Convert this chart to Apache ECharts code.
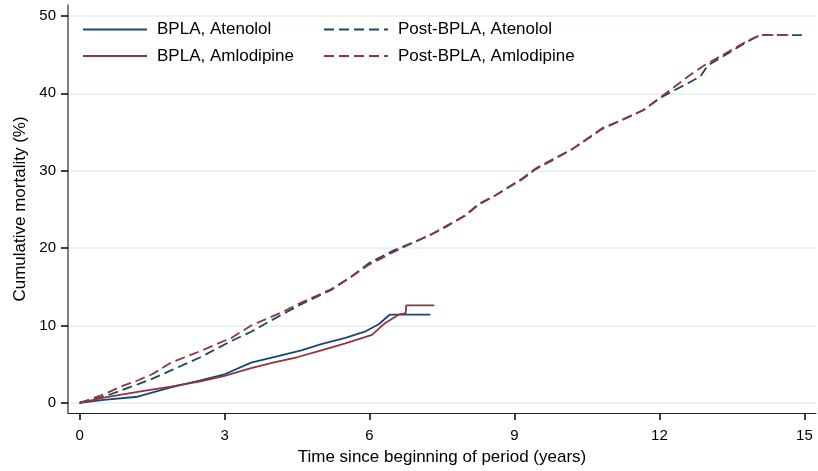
<!DOCTYPE html>
<html>
<head>
<meta charset="utf-8">
<script src="https://cdn.jsdelivr.net/npm/echarts@6/dist/echarts.min.js"></script>
<style>
  html, body { margin: 0; padding: 0; background: #fff; }
  #chart { width: 818px; height: 471px; }
</style>
</head>
<body>
<div id="chart"></div>
<script>
// time (years) and cumulative mortality (%)
var bplaAtenT = [0, 0.5, 1.2, 1.89, 2.5, 3.0, 3.55, 4.0, 4.59, 5.0, 5.5, 5.9, 6.2, 6.36, 6.42, 7.26];
var bplaAtenY = [0, 0.4, 0.8, 2.0, 2.9, 3.7, 5.2, 5.9, 6.8, 7.6, 8.4, 9.2, 10.2, 11.1, 11.4, 11.4];

var bplaAmloT = [0, 0.5, 1.2, 1.89, 2.5, 3.0, 3.55, 4.0, 4.5, 5.0, 5.5, 6.05, 6.32, 6.6, 6.75, 6.76, 7.34];
var bplaAmloY = [0, 0.7, 1.43, 2.1, 2.8, 3.5, 4.5, 5.2, 5.9, 6.8, 7.7, 8.8, 10.3, 11.4, 11.6, 12.6, 12.6];

var postAtenT = [0, 0.5, 0.85, 1.2, 1.5, 1.89, 2.5, 3.14, 3.55, 4.18, 4.6, 5.21, 5.6, 6.0, 6.5, 7.08, 7.29, 7.6, 7.99, 8.26, 8.6, 9.16, 9.44, 9.8, 10.2, 10.82, 11.24, 11.66, 12.07, 12.62, 12.85, 13.0, 13.38, 13.8, 14.08, 14.96];
var postAtenY = [0, 0.8, 1.6, 2.4, 3.1, 4.2, 5.9, 8.0, 9.2, 11.4, 12.8, 14.6, 16.2, 18.1, 19.7, 21.2, 21.8, 22.8, 24.3, 25.7, 26.8, 28.9, 30.2, 31.4, 32.8, 35.4, 36.6, 37.8, 39.6, 41.4, 42.2, 43.6, 45.0, 46.6, 47.5, 47.5];

var postAmloT = [0, 0.5, 0.85, 1.2, 1.5, 1.89, 2.5, 3.14, 3.55, 4.18, 4.6, 5.21, 5.6, 6.0, 6.5, 7.08, 7.29, 7.6, 7.99, 8.26, 8.6, 9.16, 9.44, 9.8, 10.2, 10.82, 11.24, 11.66, 12.07, 12.62, 12.9, 13.38, 13.8, 14.08, 14.77];
var postAmloY = [0, 1.1, 2.1, 2.9, 3.7, 5.2, 6.7, 8.4, 10.0, 11.7, 13.0, 14.7, 16.2, 17.9, 19.5, 21.2, 21.8, 22.9, 24.2, 25.6, 26.8, 29.0, 30.3, 31.5, 32.8, 35.5, 36.6, 37.8, 39.7, 42.3, 43.5, 45.2, 46.7, 47.5, 47.5];

var xTicks = [0, 3, 6, 9, 12, 15];
var yTicks = [0, 10, 20, 30, 40, 50];

var NAVY = '#1a476f';
var MAROON = '#90353b';
var FONT = 'Liberation Sans, Arial, sans-serif';

function pairs(t, y) {
    var out = [];
    for (var i = 0; i < t.length; i++) out.push([t[i], y[i]]);
    return out;
}

function curve(name, t, y, color, dashed) {
    return {
        name: name,
        type: 'line',
        data: pairs(t, y),
        symbol: 'none',
        silent: true,
        animation: false,
        lineStyle: { color: color, width: 1.8, type: dashed ? [10, 5] : 'solid' },
        itemStyle: { color: color },
        z: dashed ? 2 : 3
    };
}

var chart = echarts.init(document.getElementById('chart'));

var legendBase = {
    orient: 'vertical',
    top: 21,
    padding: 0,
    itemWidth: 64,
    itemHeight: 14,
    itemGap: 9.5,
    selectedMode: false,
    itemStyle: { opacity: 0 },
    textStyle: { fontFamily: FONT, fontSize: 17, color: '#000', padding: [0, 0, 0, 5] }
};

chart.setOption({
    backgroundColor: '#fff',
    animation: false,
    grid: { left: 68, right: 2, top: 5, bottom: 48 },
    legend: [
        Object.assign({}, legendBase, { left: 82, data: ['BPLA, Atenolol', 'BPLA, Amlodipine'] }),
        Object.assign({}, legendBase, { left: 323, data: ['Post-BPLA, Atenolol', 'Post-BPLA, Amlodipine'] })
    ],
    xAxis: {
        type: 'value',
        min: -0.24,
        max: 15.24,
        name: 'Time since beginning of period (years)',
        nameLocation: 'middle',
        nameGap: 36,
        nameTextStyle: { fontFamily: FONT, fontSize: 17, color: '#000' },
        axisLine: { show: true, onZero: false, lineStyle: { color: '#222', width: 1 } },
        axisTick: { show: true, length: 7, customValues: xTicks, lineStyle: { color: '#000', width: 1.5 } },
        axisLabel: { customValues: xTicks, margin: 15, fontFamily: FONT, fontSize: 15, color: '#000' },
        splitLine: { show: false }
    },
    yAxis: {
        type: 'value',
        min: -1.3,
        max: 51.4,
        name: 'Cumulative mortality (%)',
        nameLocation: 'middle',
        nameGap: 37,
        nameTextStyle: { fontFamily: FONT, fontSize: 17, color: '#000' },
        axisLine: { show: true, onZero: false, lineStyle: { color: '#555', width: 1.5 } },
        axisTick: { show: true, length: 7, customValues: yTicks, lineStyle: { color: '#000', width: 1.5 } },
        axisLabel: { customValues: yTicks, margin: 12, fontFamily: FONT, fontSize: 15, color: '#000' },
        splitLine: { show: true, lineStyle: { color: '#e6eef1', width: 1.5 } }
    },
    series: [
        curve('Post-BPLA, Atenolol', postAtenT, postAtenY, NAVY, true),
        curve('Post-BPLA, Amlodipine', postAmloT, postAmloY, MAROON, true),
        curve('BPLA, Atenolol', bplaAtenT, bplaAtenY, NAVY, false),
        curve('BPLA, Amlodipine', bplaAmloT, bplaAmloY, MAROON, false)
    ]
});
</script>
</body>
</html>
